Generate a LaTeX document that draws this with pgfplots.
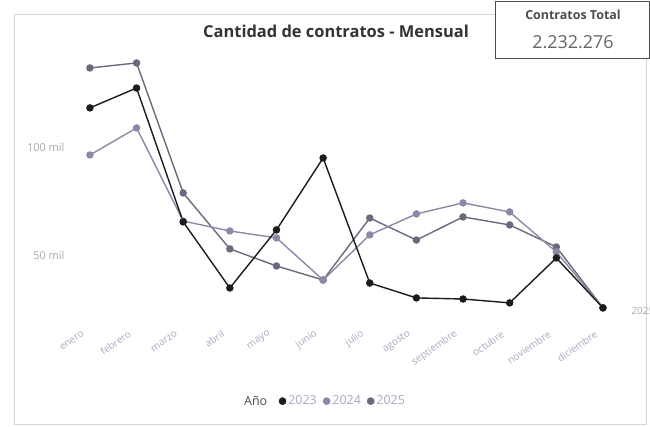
\documentclass[border=0pt]{standalone}
\usepackage{fontspec}
\setmainfont{Open Sans}
\usepackage{pgfplots}
\pgfplotsset{compat=1.18}
\definecolor{c23}{HTML}{1C1C1C}
\definecolor{c24}{HTML}{8A8AA6}
\definecolor{c25}{HTML}{6A6A7E}
\definecolor{lbl}{HTML}{A6AAC4}
\definecolor{ylbl}{HTML}{A8A8A8}
\definecolor{frame}{HTML}{D6D6D6}
\begin{document}
\begin{tikzpicture}
\begin{scope}[x=1bp,y=1bp]
\useasboundingbox (0,0) rectangle (650,426);
\fill[white] (0,0) rectangle (650,426);
\draw[frame, line width=0.8bp] (14,2) rectangle (646,412);
\node[font=\fontsize{16.5}{18}\selectfont\bfseries, text=black!80] at (336,395) {Cantidad de contratos - Mensual};
\draw[black!70, line width=0.9bp, fill=white] (495,368) rectangle (649.5,425);
\node[font=\fontsize{12.5}{14}\selectfont\bfseries, text=black!70] at (573,411) {Contratos Total};
\node[font=\fontsize{18}{20}\selectfont, text=black!60] at (573,384) {2.232.276};
\node[font=\fontsize{12.5}{14}\selectfont, text=black!70, anchor=west, inner sep=0pt] at (244,25) {Año};
\node[font=\fontsize{10}{12}\selectfont, text=ylbl, anchor=west] at (628,115) {2025};
\end{scope}
\begin{axis}[
  at={(68bp,108bp)}, anchor=south west,
  scale only axis, width=562bp, height=279bp,
  xmin=-0.47, xmax=11.58, ymin=20800, ymax=150000,
  scaled y ticks=false,
  axis line style={draw=none}, tick style={draw=none},
  xtick={0,...,11},
  xticklabels={enero,febrero,marzo,abril,mayo,junio,julio,agosto,septiembre,octubre,noviembre,diciembre},
  xticklabel style={font=\fontsize{10}{12}\selectfont, text=lbl, xshift=-4bp, yshift=-13bp, rotate=35, anchor=east},
  ytick={50000,100000},
  yticklabels={50 mil,100 mil},
  yticklabel style={font=\fontsize{11}{13}\selectfont, text=ylbl},
  clip=false,
  legend columns=-1,
  legend style={draw=none, fill=none, at={(0.375,-0.298)}, anchor=west,
    font=\fontsize{12.5}{14}\selectfont, text=lbl,
    /tikz/every even column/.append style={column sep=4bp},
    inner sep=0pt, outer sep=0pt},
  legend image code/.code={\fill[#1] (6bp,0bp) circle (3.6bp);},
]
\addplot[c25, line width=1.4bp, mark=*, mark size=3bp, forget plot] coordinates {
(0,136600) (1,138900) (2,78700) (3,52800) (4,44900) (5,38400) (6,67100) (7,56900) (8,67600) (9,63900) (10,53700) (11,25500)};
\addplot[c24, line width=1.4bp, mark=*, mark size=3bp, forget plot] coordinates {
(0,96300) (1,108800) (2,65700) (3,61100) (4,57900) (5,38400) (6,59300) (7,69000) (8,74100) (9,69900) (10,51400) (11,25500)};
\addplot[c23, line width=1.4bp, mark=*, mark size=3bp, forget plot] coordinates {
(0,118100) (1,127300) (2,65300) (3,34700) (4,61600) (5,94900) (6,37000) (7,30100) (8,29600) (9,27800) (10,48600) (11,25500)};
\addlegendimage{c23}\addlegendentry{2023}
\addlegendimage{c24}\addlegendentry{2024}
\addlegendimage{c25}\addlegendentry{2025}
\end{axis}
\end{tikzpicture}
\end{document}
